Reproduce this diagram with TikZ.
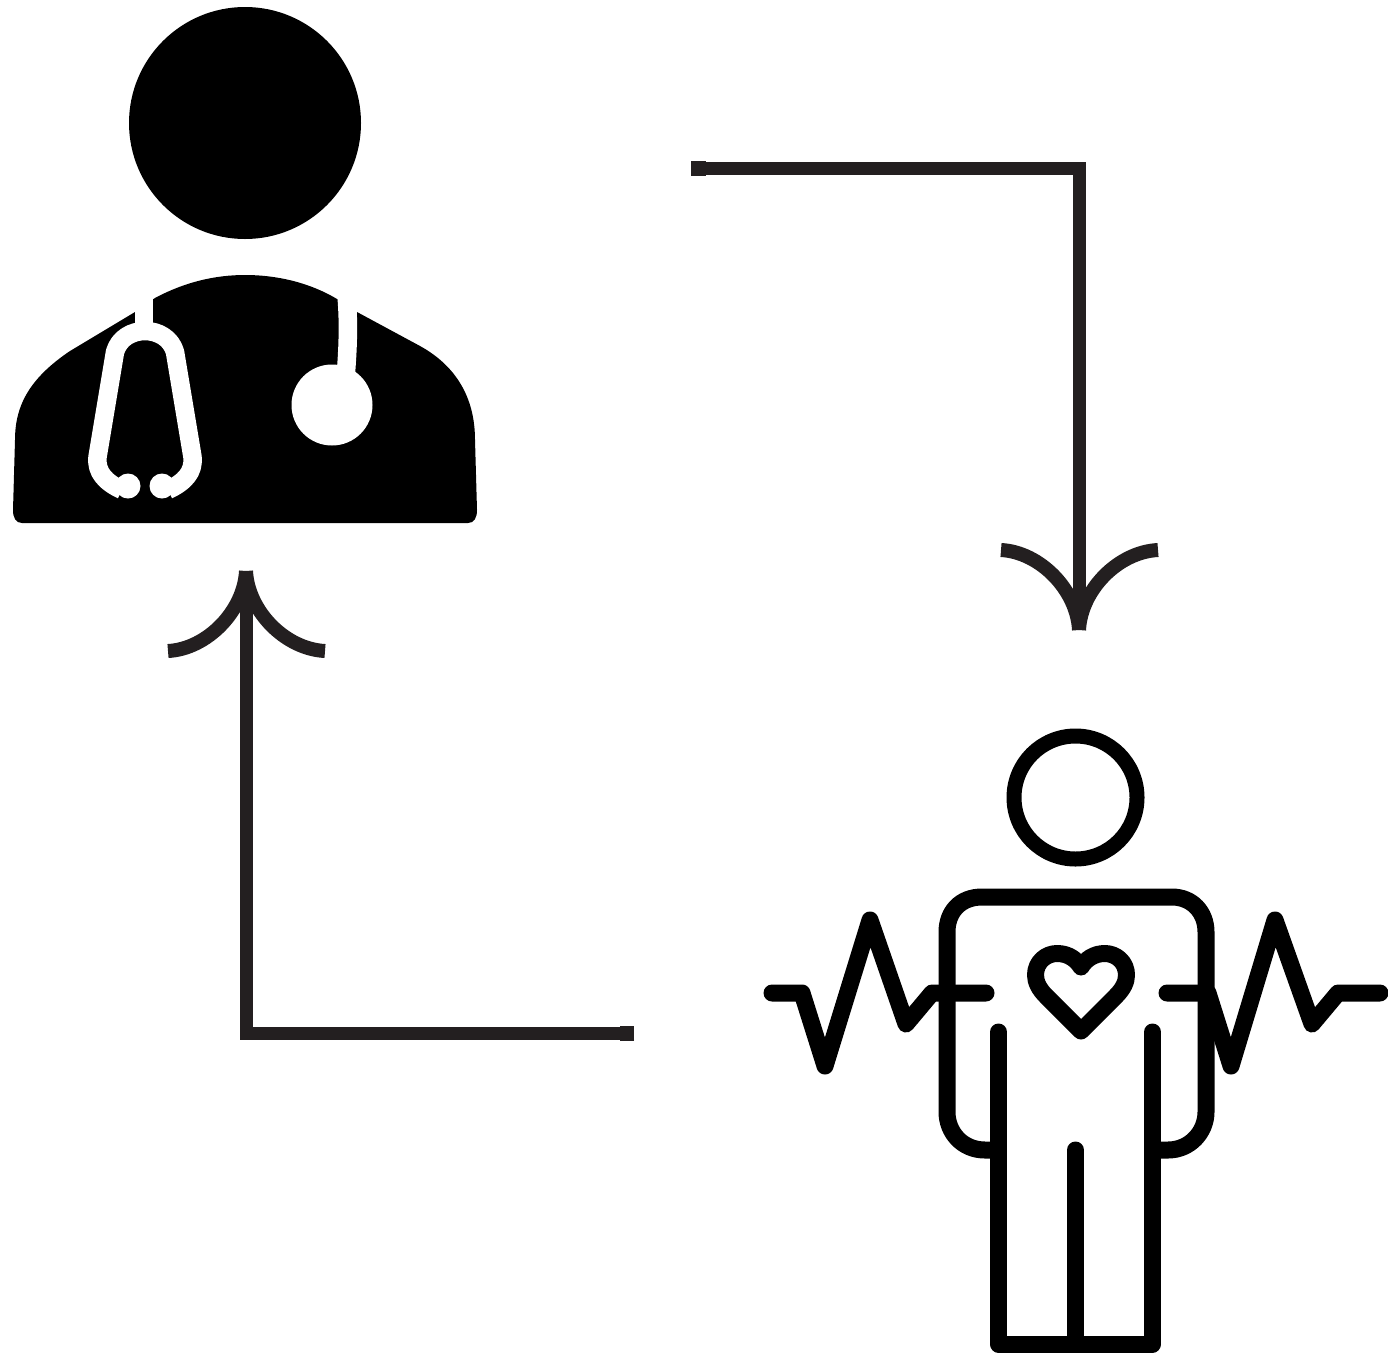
\documentclass[tikz,border=0pt]{standalone}
\definecolor{arrowink}{HTML}{231F20}
\tikzset{
  conn/.style={draw=arrowink,line width=13pt,line join=miter},
  connstub/.style={draw=arrowink,line width=15pt},
  barb/.style={draw=arrowink,line width=14pt,line cap=butt},
  icon/.style={draw=black,line width=17pt,line cap=round,line join=round},
  tube/.style={draw=white,line width=18.5pt,line join=round,line cap=butt},
}
\begin{document}
\begin{tikzpicture}[x=1pt,y=-1pt]
\useasboundingbox (0,0) rectangle (1388,1357);
% doctor
\fill[black] (245,123) circle (116);
\fill[black] (155,298) .. controls (185,282) and (215,275) .. (245,275)
  .. controls (280,275) and (312,284) .. (337,299) -- (357,312) -- (420,346)
  .. controls (458,367) and (475,400) .. (475,440) -- (477,510)
  .. controls (477,518) and (474,523) .. (468,523) -- (22,523)
  .. controls (16,523) and (13,518) .. (13,510) -- (15,440)
  .. controls (15,405) and (30,378) .. (70,351) -- (135,312) -- cycle;
\draw[tube] (144,290) -- (144,328);
\draw[tube] (122,490) .. controls (105,482) and (96,472) .. (97.5,457) -- (115,352)
  .. controls (119,338) and (132,331) .. (145,331)
  .. controls (158,331) and (171,338) .. (175,352) -- (192.5,457)
  .. controls (194,472) and (185,482) .. (168,490);
\fill[white] (128,486) circle (12.5) (162,486) circle (12.5);
\draw[tube] (346,290) .. controls (349,320) and (348,345) .. (346,372);
\fill[white] (332,405) circle (40.5);
% patient
\draw[black,line width=15pt] (1075.5,797.5) circle (61.5);
\draw[icon] (992,1150) -- (985,1150) .. controls (962,1150) and (947,1132) .. (947,1112)
  -- (947,932) .. controls (947,912) and (960,897) .. (982,897)
  -- (1172,897) .. controls (1192,897) and (1206,912) .. (1206,932)
  -- (1206,1112) .. controls (1206,1132) and (1190,1150) .. (1168,1150) -- (1161,1150);
\draw[icon] (998.5,1032) -- (998.5,1344) -- (1152.5,1344) -- (1152.5,1032);
\draw[icon] (1075.5,1150) -- (1075.5,1344);
\draw[icon] (772,993) -- (802,993) -- (825,1066) -- (870,920) -- (906,1024) -- (932,993) -- (986,993);
\draw[icon] (1167,993) -- (1208,993) -- (1231,1066) -- (1275,920) -- (1312,1024) -- (1338,993) -- (1380,993);
\draw[icon] (1081,1031) -- (1046,996)
  .. controls (1039,989) and (1035.5,982) .. (1035.5,975)
  .. controls (1035.5,962) and (1046,953.5) .. (1057,953.5)
  .. controls (1068,953.5) and (1076,959) .. (1081,967)
  .. controls (1086,959) and (1094,953.5) .. (1105,953.5)
  .. controls (1116,953.5) and (1126.5,962) .. (1126.5,975)
  .. controls (1126.5,982) and (1123,989) .. (1116,996) -- cycle;
% connectors
\coordinate (a1start) at (691,168);
\coordinate (a1stub) at (706,168);
\coordinate (a1corner) at (1079,168);
\coordinate (a1tip) at (1079,630);
\coordinate (a1l) at (1001,550);
\coordinate (a1r) at (1158,550);
\draw[conn] (a1start) -- (a1corner) -- (a1tip);
\draw[connstub] (a1start) -- (a1stub);
\draw[barb] (a1l) .. controls (1040,552) and (1077,590) .. (a1tip);
\draw[barb] (a1r) .. controls (1118,552) and (1081,590) .. (a1tip);
\coordinate (a2start) at (634,1033);
\coordinate (a2stub) at (620,1033);
\coordinate (a2corner) at (246,1033);
\coordinate (a2tip) at (246,571);
\coordinate (a2l) at (168,651);
\coordinate (a2r) at (325,651);
\draw[conn] (a2start) -- (a2corner) -- (a2tip);
\draw[connstub] (a2start) -- (a2stub);
\draw[barb] (a2l) .. controls (207,649) and (244,611) .. (a2tip);
\draw[barb] (a2r) .. controls (285,649) and (248,611) .. (a2tip);
\end{tikzpicture}
\end{document}
